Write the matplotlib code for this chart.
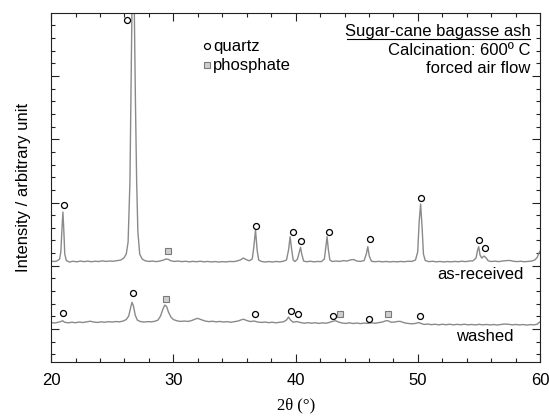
import matplotlib
matplotlib.use("Agg")
import matplotlib.pyplot as plt
import numpy as np
from matplotlib.ticker import FixedLocator, MultipleLocator

plt.rcParams['font.family'] = ['Liberation Sans', 'DejaVu Sans']

# as-received pattern (2theta, intensity incl. offset)
raw_x = [20.0, 20.3, 20.5, 20.7, 20.8, 20.9, 20.97, 21.05, 21.12, 21.25, 21.5, 21.8, 22.1, 22.4,
         22.7, 23.0, 23.3, 23.6, 23.9, 24.2, 24.5, 24.8, 25.1, 25.4, 25.7, 25.95, 26.15, 26.3,
         26.45, 26.55, 26.65, 26.72, 26.8, 26.9, 27.0, 27.1, 27.25, 27.45, 27.7, 28.0, 28.3,
         28.6, 28.9, 29.15, 29.4, 29.6, 29.8, 30.1, 30.4, 30.7, 31.0, 31.3, 31.6, 31.9, 32.2,
         32.5, 32.8, 33.1, 33.4, 33.7, 34.0, 34.3, 34.6, 34.9, 35.2, 35.5, 35.72, 35.95, 36.2,
         36.45, 36.58, 36.72, 36.85, 36.98, 37.2, 37.5, 37.8, 38.1, 38.4, 38.7, 39.0, 39.25,
         39.42, 39.55, 39.68, 39.8, 39.95, 40.15, 40.3, 40.4, 40.5, 40.65, 40.9, 41.2, 41.5,
         41.8, 42.1, 42.35, 42.47, 42.57, 42.68, 42.8, 43.0, 43.3, 43.6, 43.9, 44.2, 44.5,
         44.75, 45.0, 45.3, 45.6, 45.78, 45.9, 46.02, 46.2, 46.5, 46.8, 47.1, 47.4, 47.7, 48.0,
         48.3, 48.6, 48.9, 49.2, 49.5, 49.8, 49.98, 50.1, 50.22, 50.34, 50.45, 50.6, 50.9,
         51.2, 51.5, 51.8, 52.1, 52.4, 52.7, 53.0, 53.3, 53.6, 53.9, 54.2, 54.5, 54.75, 54.88,
         54.97, 55.08, 55.22, 55.4, 55.55, 55.75, 56.0, 56.3, 56.6, 56.9, 57.2, 57.5, 57.8,
         58.1, 58.4, 58.7, 59.0, 59.3, 59.55, 59.75, 59.9, 60.0]
raw_y = [1010, 1005, 1012, 1030, 1100, 1350, 1500, 1300, 1080, 1015, 1000, 1008, 1002, 1010,
         1004, 1009, 1003, 1008, 1005, 1012, 1006, 1010, 1008, 1014, 1020, 1040, 1080, 1200,
         1800, 2800, 3900, 4200, 3600, 2600, 1800, 1300, 1080, 1030, 1012, 1006, 1010,
         1004, 1010, 1018, 1030, 1026, 1012, 1006, 1010, 1004, 1008, 1002, 1007, 1003, 1008,
         1002, 1006, 1001, 1005, 1000, 1004, 1001, 1006, 1004, 1010, 1022, 1040, 1025, 1012,
         1030, 1150, 1320, 1120, 1020, 1006, 1000, 1005, 1000, 1006, 1002, 1008, 1020,
         1120, 1253, 1120, 1020, 1005, 1030, 1100, 1147, 1080, 1010, 1003, 1008, 1002,
         1006, 1004, 1030, 1150, 1253, 1120, 1020, 1005, 1010, 1006, 1014, 1010, 1022,
         1025, 1010, 1006, 1015, 1080, 1153, 1060, 1008, 1003, 1007, 1002, 1006, 1001, 1005,
         1002, 1006, 1003, 1008, 1006, 1020, 1100, 1400, 1580, 1350, 1080, 1015, 1004,
         1008, 1002, 1006, 1001, 1005, 1002, 1006, 1003, 1008, 1004, 1010, 1012, 1040, 1120,
         1153, 1070, 1040, 1060, 1045, 1012, 1005, 1009, 1004, 1010, 1014, 1016, 1008,
         1004, 1008, 1003, 1007, 1010, 1020, 1045, 1093, 1110]

# washed pattern
wash_x = [20.0, 20.3, 20.6, 20.8, 20.95, 21.1, 21.4, 21.7, 22.0, 22.3, 22.6, 22.9, 23.2, 23.5,
          23.8, 24.1, 24.4, 24.7, 25.0, 25.3, 25.6, 25.9, 26.15, 26.35, 26.5, 26.62, 26.74,
          26.88, 27.05, 27.3, 27.6, 27.9, 28.2, 28.5, 28.75, 28.95, 29.15, 29.3, 29.45, 29.6,
          29.8, 30.0, 30.3, 30.6, 30.9, 31.2, 31.5, 31.8, 32.0, 32.25, 32.6, 32.9, 33.2, 33.5,
          33.8, 34.1, 34.4, 34.7, 35.0, 35.3, 35.55, 35.75, 36.0, 36.3, 36.6, 36.9, 37.2, 37.5,
          37.8, 38.1, 38.4, 38.7, 39.0, 39.25, 39.42, 39.58, 39.8, 40.1, 40.4, 40.7, 41.0,
          41.3, 41.6, 41.9, 42.2, 42.5, 42.8, 43.05, 43.28, 43.5, 43.8, 44.1, 44.4, 44.7, 45.0,
          45.3, 45.6, 45.9, 46.2, 46.5, 46.8, 47.1, 47.35, 47.55, 47.8, 48.1, 48.4, 48.6, 48.9,
          49.2, 49.5, 49.8, 50.05, 50.2, 50.5, 50.8, 51.1, 51.4, 51.7, 52.0, 52.3, 52.6, 52.9,
          53.2, 53.5, 53.8, 54.1, 54.4, 54.7, 55.0, 55.3, 55.6, 55.9, 56.2, 56.5, 56.8, 57.1,
          57.4, 57.7, 58.0, 58.3, 58.6, 58.9, 59.2, 59.5, 59.75, 59.9, 60.0]
wash_y = [395, 390, 398, 405, 413, 398, 392, 398, 393, 400, 395, 402, 408, 400,
          396, 402, 398, 404, 400, 405, 402, 410, 425, 460, 540, 597, 560,
          470, 420, 405, 400, 404, 402, 408, 420, 460, 530, 570, 555, 500,
          450, 425, 412, 406, 410, 406, 415, 430, 437, 425, 410, 404, 408, 402,
          406, 400, 404, 398, 404, 410, 422, 428, 415, 405, 410, 400, 396, 400,
          394, 398, 392, 398, 402, 420, 450, 420, 398, 405, 395, 388, 394,
          388, 393, 386, 392, 388, 398, 408, 413, 400, 390, 386, 392, 385, 390,
          384, 390, 386, 392, 388, 394, 400, 412, 413, 398, 400, 407, 405, 392,
          386, 382, 386, 395, 388, 376, 380, 374, 378, 372, 378, 373, 378, 372,
          377, 373, 378, 372, 376, 371, 377, 372, 376, 371, 375, 370, 376, 380,
          378, 372, 376, 371, 375, 370, 374, 372, 378, 395, 403]

# phase markers
quartz_x = [21.06, 26.2, 36.74, 39.76, 40.42, 42.7, 46.06, 50.23, 55.0, 55.51,
            20.95, 26.73, 36.7, 39.62, 40.17, 43.06, 46.0, 50.17]
quartz_y = [1570, 3420, 1363, 1300, 1213, 1300, 1233, 1637, 1220, 1137,
            490, 687, 480, 507, 480, 460, 433, 460]
phos_x = [29.54, 29.38, 43.6, 47.53]
phos_y = [1107, 633, 477, 477]

line_col = '#8a8a8a'

fig = plt.figure(figsize=(5.49, 4.2), dpi=100)
ax = fig.add_axes([0.093, 0.138, 0.891, 0.831])

ax.plot(raw_x, raw_y, color=line_col, lw=1.0)
ax.plot(wash_x, wash_y, color=line_col, lw=1.0)
ax.plot(quartz_x, quartz_y, 'o', ms=4.3, mfc='white', mec='black', mew=0.9, ls='none')
ax.plot(phos_x, phos_y, 's', ms=5.0, mfc='#cfcfcf', mec='#7a7a7a', mew=0.8, ls='none')

ax.set_xlim(20, 60)
ax.set_ylim(0, 3490)
ax.xaxis.set_major_locator(MultipleLocator(10))
ax.xaxis.set_minor_locator(MultipleLocator(2))
ax.yaxis.set_major_locator(FixedLocator(np.arange(330, 3500, 632.5)))
ax.yaxis.set_minor_locator(FixedLocator(np.arange(330 - 2 * 126.5, 3500, 126.5)))
ax.tick_params(which='both', direction='in', top=True, right=True, width=0.8, colors='#222222')
ax.tick_params(which='major', length=5.5)
ax.tick_params(which='minor', length=3.2)
ax.tick_params(axis='x', labelsize=12, pad=8, labelcolor='black')
ax.set_yticklabels([])
for sp in ax.spines.values():
    sp.set_linewidth(0.8)
    sp.set_color('#222222')

ax.set_xlabel('2\u03b8 (\u00b0)', family='Liberation Serif', fontsize=12, labelpad=7)
ax.set_ylabel('Intensity / arbitrary unit', fontsize=12, labelpad=11)

# legend drawn by hand
ax.plot([0.318], [0.905], 'o', ms=4.3, mfc='white', mec='black', mew=0.9, transform=ax.transAxes)
ax.plot([0.318], [0.851], 's', ms=5.0, mfc='#cfcfcf', mec='#7a7a7a', mew=0.8, transform=ax.transAxes)
ax.text(0.331, 0.905, 'quartz', transform=ax.transAxes, fontsize=12, va='center')
ax.text(0.331, 0.851, 'phosphate', transform=ax.transAxes, fontsize=12, va='center')

ax.text(0.98, 0.946, 'Sugar-cane bagasse ash', transform=ax.transAxes, fontsize=12,
        ha='right', va='center')
ax.plot([0.604, 0.98], [0.925, 0.925], color='black', lw=0.8, transform=ax.transAxes)
ax.text(0.98, 0.892, 'Calcination: 600\u00ba C', transform=ax.transAxes, fontsize=12,
        ha='right', va='center')
ax.text(0.98, 0.84, 'forced air flow', transform=ax.transAxes, fontsize=12,
        ha='right', va='center')

ax.text(0.967, 0.252, 'as-received', transform=ax.transAxes, fontsize=12, ha='right', va='center')
ax.text(0.945, 0.072, 'washed', transform=ax.transAxes, fontsize=12, ha='right', va='center')

fig.savefig('out.png', dpi=100)
